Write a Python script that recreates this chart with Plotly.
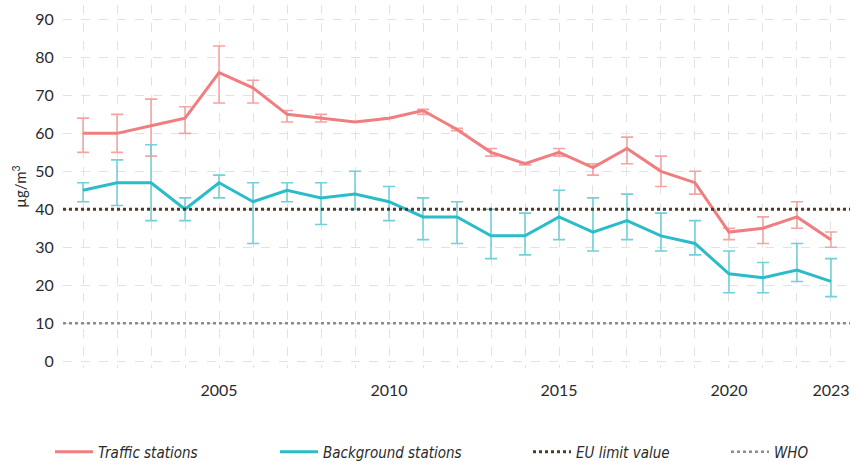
import plotly.graph_objects as go

# Annual mean NO2 concentrations (µg/m³) with station spread
years = list(range(2001, 2024))

traffic = [60, 60, 62, 64, 76, 72, 65, 64, 63, 64, 66, 61, 55, 52, 55, 51, 56, 50, 47, 34, 35, 38, 32]
traffic_hi = [64, 65, 69, 67, 83, 74, 66, 65, 63, 64, 66.3, 61.3, 56, 52.3, 56, 52, 59, 54, 50, 35, 38, 42, 34]
traffic_lo = [55, 55, 54, 60, 68, 68, 63, 63, 63, 64, 65, 60.7, 54, 51.7, 54, 49, 52, 46, 44, 32, 31, 35, 30]

background = [45, 47, 47, 40, 47, 42, 45, 43, 44, 42, 38, 38, 33, 33, 38, 34, 37, 33, 31, 23, 22, 24, 21]
background_hi = [47, 53, 57, 43, 49, 47, 47, 47, 50, 46, 43, 42, 40, 39, 45, 43, 44, 39, 37, 29, 26, 31, 27]
background_lo = [42, 41, 37, 37, 43, 31, 42, 36, 40, 37, 32, 31, 27, 28, 32, 29, 32, 29, 28, 18, 18, 21, 17]

eu_limit = 40
who_guideline = 10

labelled_years = [2005, 2010, 2015, 2020, 2023]

x_range = [2000.41, 2023.56]
y_range = [-1.8, 93.8]

TRAFFIC = "#F07E7E"
TRAFFIC_ERR = "#F5A3A3"
BACKGROUND = "#2ABCC8"
BACKGROUND_ERR = "#72D0D8"
EU_COLOR = "#4E3B2C"
WHO_COLOR = "#8C8C8C"
TEXT = "#2B2B2B"
GRID = "#E2E2E2"

fig = go.Figure()

fig.add_trace(go.Scatter(
    x=years, y=traffic, name="Traffic stations", mode="lines",
    line=dict(color=TRAFFIC, width=3),
    error_y=dict(type="data", symmetric=False,
                 array=[h - v for h, v in zip(traffic_hi, traffic)],
                 arrayminus=[v - l for v, l in zip(traffic, traffic_lo)],
                 color=TRAFFIC_ERR, thickness=1.6, width=6),
    legend="legend",
))

fig.add_trace(go.Scatter(
    x=years, y=background, name="Background stations", mode="lines",
    line=dict(color=BACKGROUND, width=3),
    error_y=dict(type="data", symmetric=False,
                 array=[h - v for h, v in zip(background_hi, background)],
                 arrayminus=[v - l for v, l in zip(background, background_lo)],
                 color=BACKGROUND_ERR, thickness=1.6, width=6),
    legend="legend2",
))

fig.add_trace(go.Scatter(
    x=x_range, y=[eu_limit, eu_limit], name="EU limit value", mode="lines",
    line=dict(color=EU_COLOR, width=3, dash="3px,3px"),
    legend="legend3",
))

fig.add_trace(go.Scatter(
    x=x_range, y=[who_guideline, who_guideline], name="WHO", mode="lines",
    line=dict(color=WHO_COLOR, width=2.5, dash="3px,3px"),
    legend="legend4",
))

legend_font = dict(family="DejaVu Sans Condensed, Liberation Sans Narrow, sans-serif",
                   size=15, color=TEXT, style="italic")


def legend_at(x):
    # container y is measured from the bottom edge
    return dict(x=x, y=9 / 461, xref="container", yref="container",
                xanchor="left", yanchor="middle", orientation="h",
                bgcolor="rgba(0,0,0,0)", font=legend_font, itemwidth=38,
                itemclick=False, itemdoubleclick=False)


fig.update_layout(
    width=857, height=461,
    margin=dict(l=63, r=7, t=5, b=93),
    paper_bgcolor="white", plot_bgcolor="white",
    font=dict(family="Lato, sans-serif", color=TEXT, size=16),
    showlegend=True,
    legend=legend_at(50 / 857),
    legend2=legend_at(275 / 857),
    legend3=legend_at(528 / 857),
    legend4=legend_at(726 / 857),
    xaxis=dict(
        range=x_range, tickmode="array", tickvals=labelled_years,
        ticktext=[str(y) for y in labelled_years],
        showgrid=True, gridcolor=GRID, griddash="dash", gridwidth=1,
        minor=dict(tickmode="array", tickvals=years, showgrid=True,
                   gridcolor=GRID, griddash="dash", gridwidth=1, ticks=""),
        zeroline=False, showline=False,
        ticks="outside", ticklen=8, tickcolor="rgba(0,0,0,0)",
        tickfont=dict(size=16, color=TEXT),
    ),
    yaxis=dict(
        range=y_range, tickmode="linear", tick0=0, dtick=10,
        showgrid=True, gridcolor=GRID, griddash="dash", gridwidth=1,
        zeroline=False, showline=False,
        ticks="outside", ticklen=5, tickcolor="rgba(0,0,0,0)",
        tickfont=dict(size=16, color=TEXT),
        title=dict(text="µg/m<sup>3</sup>", font=dict(size=15, color=TEXT), standoff=4),
    ),
)

fig.write_html("out.html")
